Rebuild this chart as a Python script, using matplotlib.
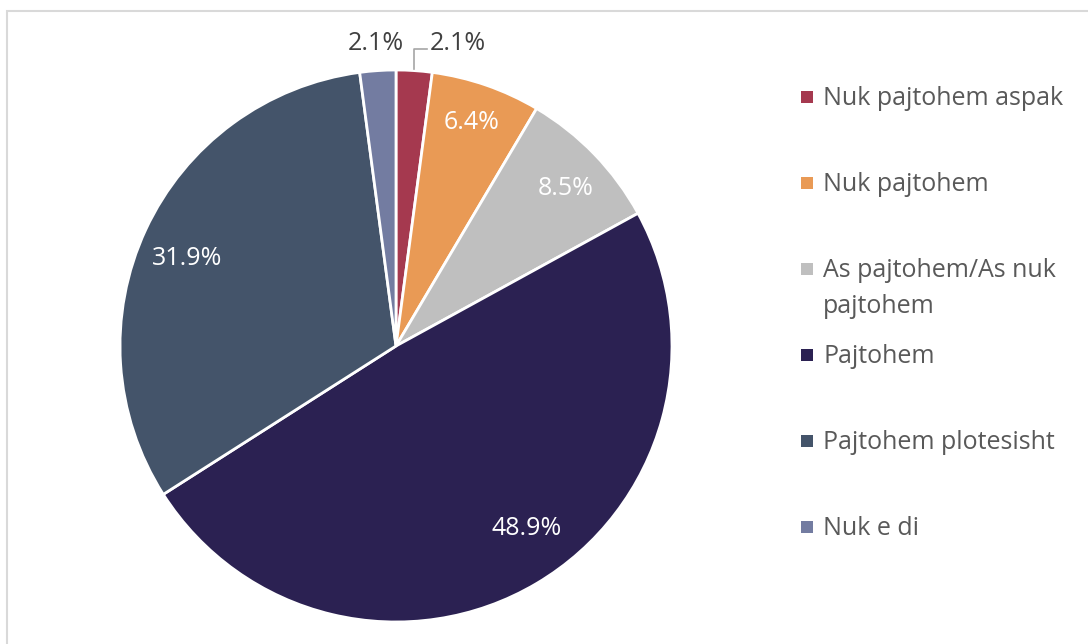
import numpy as np
import matplotlib.pyplot as plt
from matplotlib.patches import Rectangle

plt.rcParams['font.family'] = ['Open Sans', 'DejaVu Sans']

categories = ['Nuk pajtohem aspak', 'Nuk pajtohem', 'As pajtohem/As nuk\npajtohem',
              'Pajtohem', 'Pajtohem plotesisht', 'Nuk e di']
values = [2.1, 6.4, 8.5, 48.9, 31.9, 2.1]
colors = ['#A5394F', '#E99A55', '#BFBFBF', '#2B2152', '#44546A', '#737CA1']

W, H = 1088, 644
fig = plt.figure(figsize=(W / 100, H / 100), dpi=100)

# light grey chart border (runs off the right and bottom edges)
fig.patches.append(Rectangle((7 / W, -0.1), 1.2, (H - 11) / H + 0.1,
                             transform=fig.transFigure, fill=False,
                             edgecolor='#D9D9D9', linewidth=1.5))

cx, cy, r = 396, 346, 276
ax = fig.add_axes([(cx - r) / W, (H - cy - r) / H, 2 * r / W, 2 * r / H])
wedges, _ = ax.pie(values, colors=colors, startangle=90, counterclock=False,
                   wedgeprops=dict(edgecolor='white', linewidth=2))
ax.set_xlim(-1, 1)
ax.set_ylim(-1, 1)
ax.set_aspect('equal')
ax.axis('off')

# label radius / angle nudge per slice (tiny slices get outside labels)
label_r = [1.11, 0.864, 0.848, 0.804, 0.825, 1.11]
label_shift = [0, 0.5, -0.7, 5.4, 1.4, 0]
fs = 18
for i, w in enumerate(wedges):
    mid = np.deg2rad((w.theta1 + w.theta2) / 2 + label_shift[i])
    x, y = label_r[i] * np.cos(mid), label_r[i] * np.sin(mid)
    txt = f'{values[i]:.1f}%'
    if i == 0:
        # leader line from the slice edge up then right
        x0, y0 = 1.005 * np.cos(mid), 1.005 * np.sin(mid)
        ax.plot([x0, x0, x0 + 0.047], [y0, 1.076, 1.076], color='#A6A6A6',
                linewidth=1.2, clip_on=False)
        ax.text(x0 + 0.057, y, txt, ha='left', va='center_baseline', fontsize=fs,
                color='#404040', clip_on=False)
    elif label_r[i] > 1:
        ax.text(x, y, txt, ha='center', va='center_baseline', fontsize=fs,
                color='#404040', clip_on=False)
    else:
        ax.text(x, y, txt, ha='center', va='center_baseline', fontsize=fs,
                color='white')

# legend drawn by hand so the two-line entry keeps even spacing
for i, (cat, col) in enumerate(zip(categories, colors)):
    ypix = 97 + 86 * i
    fig.patches.append(Rectangle((801 / W, (H - ypix - 6) / H), 12 / W, 12 / H,
                                 transform=fig.transFigure, facecolor=col,
                                 edgecolor='none'))
    for k, line in enumerate(cat.split('\n')):
        fig.text(823 / W, (H - ypix - 8 - 36 * k) / H, line, ha='left',
                 va='baseline', fontsize=fs, color='#595959')

fig.savefig('out.png', dpi=100)
